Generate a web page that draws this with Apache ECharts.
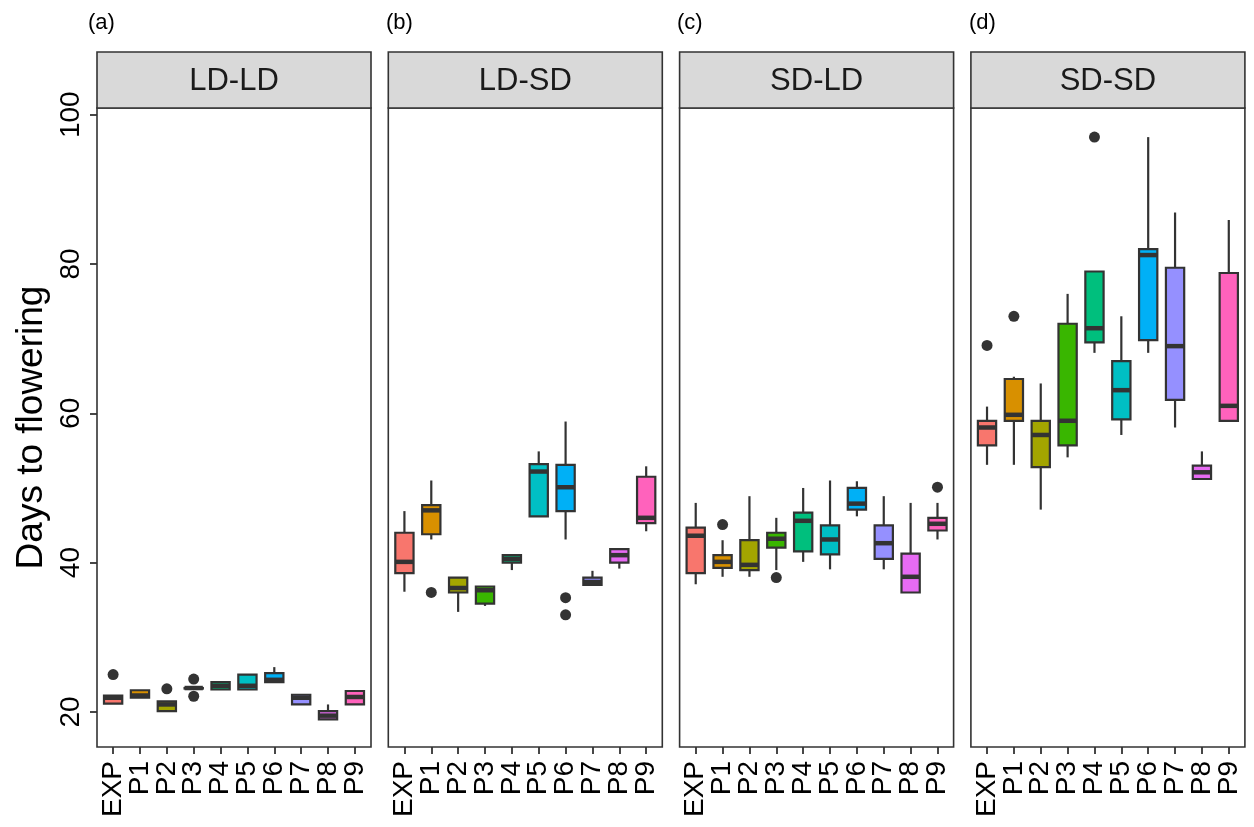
<!DOCTYPE html>
<html>
<head>
<meta charset="utf-8">
<script src="https://cdn.jsdelivr.net/npm/echarts@6/dist/echarts.min.js"></script>
<style>
html,body{margin:0;padding:0;background:#fff;}
#chart{width:1254px;height:827px;}
</style>
</head>
<body>
<div id="chart"></div>
<script>
// ---- data ----
const categories = ['EXP','P1','P2','P3','P4','P5','P6','P7','P8','P9'];
const panelNames = ['LD-LD','LD-SD','SD-LD','SD-SD'];
const panelTags = ['(a)','(b)','(c)','(d)'];
const yTicks = [20,40,60,80,100];
const boxColors = ['#F8766D','#D89000','#A3A500','#39B600','#00BF7D','#00BFC4','#00B0F6','#9590FF','#E76BF3','#FF62BC'];

// [min, q1, median, q3, max] per category
const ldld = [
  [21.1,21.1,21.9,22.2,22.2],
  [21.9,21.9,22.2,22.9,22.9],
  [20.1,20.1,21.0,21.4,21.4],
  [23.2,23.2,23.2,23.2,23.2],
  [23.0,23.0,23.5,24.0,24.0],
  [23.0,23.0,23.5,25.0,25.0],
  [24.0,24.0,24.3,25.2,26.0],
  [21.0,21.0,21.9,22.3,22.3],
  [19.0,19.0,19.5,20.1,21.0],
  [21.0,21.0,22.0,22.8,22.8]
];
const ldsd = [
  [36.1,38.6,40.1,44.0,46.9],
  [43.1,43.8,47.0,47.7,51.0],
  [33.4,36.0,36.6,38.0,38.0],
  [34.2,34.5,36.3,36.8,36.8],
  [39.0,40.0,40.5,41.0,41.0],
  [46.2,46.2,52.2,53.2,54.9],
  [43.1,46.9,50.1,53.1,58.9],
  [37.0,37.0,37.4,38.0,38.9],
  [39.2,40.0,41.0,41.8,41.8],
  [44.2,45.3,46.0,51.5,52.9]
];
const sdld = [
  [37.1,38.6,43.6,44.7,48.0],
  [38.1,39.3,40.1,41.0,43.0],
  [38.1,39.0,39.7,43.0,48.9],
  [39.0,42.0,43.2,44.0,46.0],
  [40.1,41.5,45.6,46.7,50.0],
  [39.1,41.1,43.1,45.0,51.0],
  [46.2,47.1,47.9,50.0,50.9],
  [39.1,40.5,42.6,45.0,48.9],
  [36.0,36.0,38.1,41.2,48.0],
  [43.1,44.3,45.2,46.0,48.0]
];
const sdsd = [
  [53.1,55.7,58.1,59.0,60.9],
  [53.1,59.0,59.8,64.6,64.9],
  [47.1,52.8,57.1,59.0,64.0],
  [54.1,55.7,59.0,72.0,76.0],
  [68.1,69.5,71.4,79.0,79.0],
  [57.1,59.2,63.1,67.0,73.0],
  [68.1,69.8,81.2,82.0,97.0],
  [58.1,61.8,69.0,79.5,86.9],
  [51.2,51.2,52.1,53.0,54.9],
  [59.0,59.0,61.0,78.8,85.9]
];
// outliers: [category index, value]
const ldldOut = [[0,25.0],[2,23.1],[3,24.4],[3,22.1]];
const ldsdOut = [[1,36.0],[6,35.3],[6,33.0]];
const sdldOut = [[1,45.1],[3,38.0],[9,50.1]];
const sdsdOut = [[0,69.1],[1,73.0],[4,97.0]];

const boxData = [ldld, ldsd, sdld, sdsd];
const outData = [ldldOut, ldsdOut, sdldOut, sdsdOut];

// ---- layout ----
const panelLefts = [97, 388.3, 679.6, 970.9];
const panelWidth = 274;
const panelTop = 108;
const panelHeight = 639;
const stripTop = 52;
const tagLefts = [88, 386, 677, 969];
const yMin = 15.3, yMax = 100.9;
const ink = '#333333';
const fontFam = 'Liberation Sans, Arial, sans-serif';

const chart = echarts.init(document.getElementById('chart'), null, {renderer:'canvas'});

function renderBox(params, api){
  const i = api.value(0);
  const lo = api.coord([i, api.value(1)]);
  const q1 = api.coord([i, api.value(2)]);
  const md = api.coord([i, api.value(3)]);
  const q3 = api.coord([i, api.value(4)]);
  const hi = api.coord([i, api.value(5)]);
  const w = api.size([0.68, 0])[0];
  const x = q1[0];
  return {
    type:'group',
    children:[
      {type:'line', shape:{x1:x,y1:hi[1],x2:x,y2:q3[1]}, style:{stroke:ink,lineWidth:2.2}},
      {type:'line', shape:{x1:x,y1:q1[1],x2:x,y2:lo[1]}, style:{stroke:ink,lineWidth:2.2}},
      {type:'rect', shape:{x:x-w/2,y:q3[1],width:w,height:Math.max(q1[1]-q3[1],0.5)}, style:{fill:boxColors[i],stroke:ink,lineWidth:2.2}},
      {type:'line', shape:{x1:x-w/2,y1:md[1],x2:x+w/2,y2:md[1]}, style:{stroke:ink,lineWidth:4.5}}
    ]
  };
}

function makeXAxis(p, vals){
  return {type:'value', gridIndex:p, min:-0.6, max:9.6, position:'bottom', offset:0,
    axisLine:{show:false, onZero:false}, splitLine:{show:false},
    axisTick:{show:true, inside:false, customValues:vals, length:7, lineStyle:{color:ink,width:1.8}},
    axisLabel:{show:true, inside:false, customValues:vals, rotate:90, margin:14, fontSize:28,
      showMinLabel:true, showMaxLabel:true, hideOverlap:false,
      fontFamily:fontFam, color:'#000',
      formatter:(v)=>categories[Math.round(v)]}};
}

const grids=[], xAxes=[], yAxes=[], series=[], graphics=[];
const evenIdx = [0,2,4,6,8];
const oddIdx = [1,3,5,7,9];
for(let p=0;p<4;p++){
  grids.push({left:panelLefts[p], top:panelTop, width:panelWidth, height:panelHeight,
    show:true, borderColor:ink, borderWidth:1.6, backgroundColor:'#ffffff',
    containLabel:false, outerBoundsMode:'none'});
  xAxes.push(makeXAxis(p, evenIdx));
  xAxes.push(makeXAxis(p, oddIdx));
  yAxes.push({type:'value', gridIndex:p, min:yMin, max:yMax, position:'left',
    axisLine:{show:false, onZero:false}, splitLine:{show:false},
    axisTick:{show:p===0, inside:false, customValues:yTicks, length:7, lineStyle:{color:ink,width:1.8}},
    axisLabel:{show:p===0, inside:false, customValues:yTicks, rotate:90, margin:12, fontSize:28,
      showMinLabel:true, showMaxLabel:true,
      fontFamily:fontFam, color:'#000'},
    name: p===0 ? 'Days to flowering' : '', nameLocation:'middle', nameRotate:90, nameGap:47,
    nameTextStyle:{fontSize:37, fontFamily:fontFam, color:'#000'}});
  series.push({type:'custom', xAxisIndex:2*p, yAxisIndex:p,
    data: boxData[p].map((b,i)=>[i].concat(b)),
    encode:{x:0, y:[1,2,3,4,5]},
    renderItem: renderBox, z:2});
  series.push({type:'scatter', xAxisIndex:2*p, yAxisIndex:p,
    data: outData[p], symbol:'circle', symbolSize:11,
    itemStyle:{color:ink, opacity:1}, z:3});
  graphics.push({type:'rect', shape:{x:panelLefts[p], y:stripTop, width:panelWidth, height:panelTop-stripTop},
    style:{fill:'#d9d9d9', stroke:ink, lineWidth:1.6}, z:1});
  graphics.push({type:'text', x:panelLefts[p]+panelWidth/2, y:(stripTop+panelTop)/2+1,
    style:{text:panelNames[p], fontSize:31, fontFamily:fontFam, fill:'#1a1a1a', align:'center', verticalAlign:'middle'}, z:2});
  graphics.push({type:'text', x:tagLefts[p], y:23,
    style:{text:panelTags[p], fontSize:22, fontFamily:fontFam, fill:'#000', align:'left', verticalAlign:'middle'}, z:2});
}

chart.setOption({
  animation:false,
  backgroundColor:'#ffffff',
  grid:grids, xAxis:xAxes, yAxis:yAxes, series:series, graphic:graphics
});
</script>
</body>
</html>
